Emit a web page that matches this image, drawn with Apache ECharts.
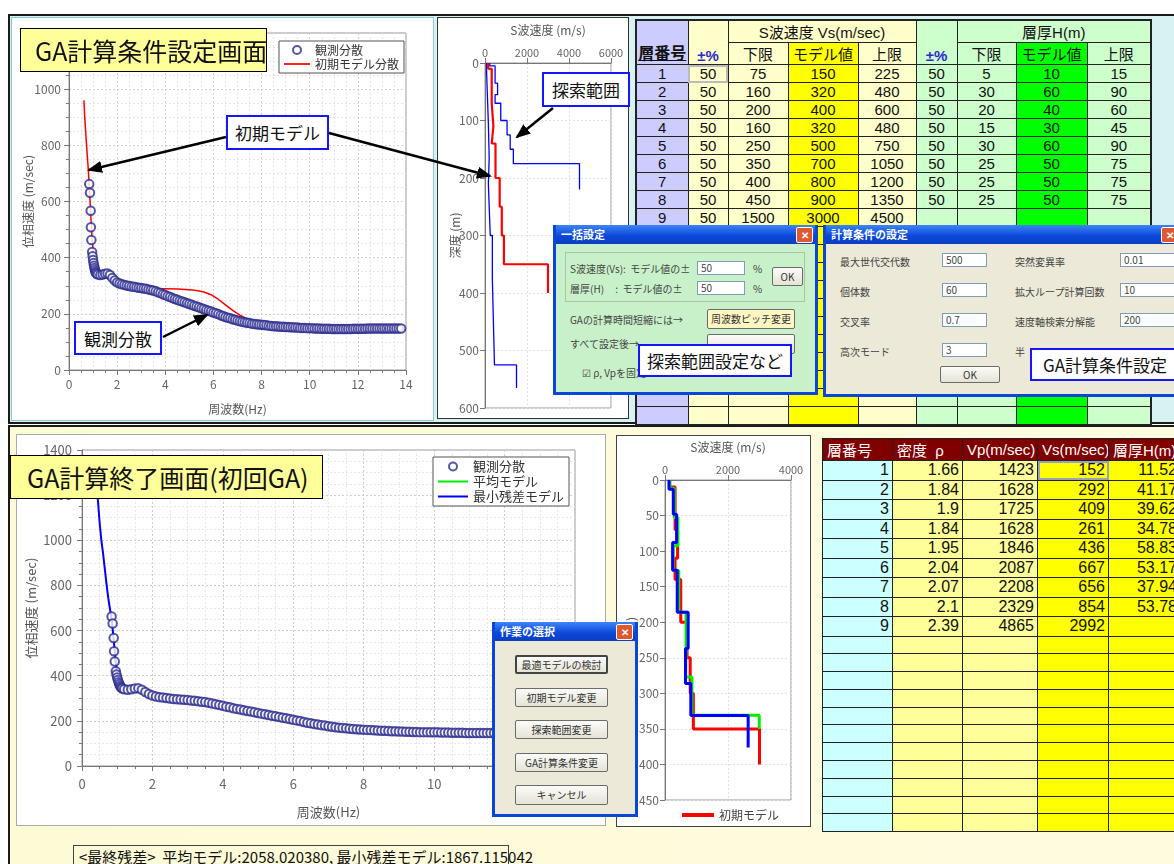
<!DOCTYPE html>
<html><head><meta charset="utf-8">
<script src="https://cdn.jsdelivr.net/npm/echarts@6/dist/echarts.min.js"></script>
<style>
body{margin:0;width:1174px;height:864px;position:relative;overflow:hidden;background:#fff;font-family:"Noto Sans CJK JP","Noto Sans",sans-serif;}
.abs{position:absolute;box-sizing:border-box;}
.ttl{position:absolute;background:#ffff99;border:1.5px solid #000;font-size:25px;display:flex;align-items:center;padding-left:14px;box-sizing:border-box;z-index:10;color:#111;white-space:nowrap;}
.ann{position:absolute;background:#fff;border:2px solid #1515ff;font-size:17px;display:flex;align-items:center;justify-content:center;box-sizing:border-box;z-index:10;color:#111;white-space:nowrap;}
.dlg{position:absolute;box-sizing:border-box;border:3px solid #0a46d8;border-top:none;z-index:6;overflow:hidden;}
.tb{height:19px;background:linear-gradient(#3d84f7,#0a46d8 60%,#0b3fc0);color:#fff;font-size:11px;font-weight:bold;line-height:19px;padding-left:5px;position:relative;}
.xb{position:absolute;right:2px;top:2px;width:15px;height:14px;background:#e0582f;border:1px solid #fff;border-radius:2px;color:#fff;font-size:10px;line-height:14px;text-align:center;}
.lbl{position:absolute;font-size:10px;color:#444;white-space:nowrap;}
.inp{position:absolute;background:#fff;border:1px solid #7f9db9;font-size:10px;height:14px;line-height:12px;padding-left:3px;box-sizing:border-box;color:#444;}
.btn{position:absolute;border:1px solid #6b6b6b;border-radius:2px;background:linear-gradient(#fbfbf8,#e6e3d6);font-size:10px;text-align:center;box-sizing:border-box;color:#333;white-space:nowrap;}
table{border-collapse:collapse;table-layout:fixed;font-family:"Liberation Sans","Noto Sans CJK JP",sans-serif;}
td{border:1px solid #222;padding:0;overflow:hidden;white-space:nowrap;}
#t1 td{text-align:center;font-size:15px;color:#111;}
#t2 td{text-align:right;font-size:16px;color:#111;padding-right:3px;}
#t2 tr.h td{background:#800000;color:#fff;text-align:left;font-size:15px;padding-left:4px;}
</style></head><body>

<!-- panels -->
<div class="abs" style="left:8px;top:14px;width:1170px;height:410px;border:2px solid #1a1a1a;background:#d8f2f4;"></div>
<div class="abs" style="left:8px;top:425px;width:1170px;height:445px;border-top:2px solid #1a1a1a;border-left:2px solid #1a1a1a;background:linear-gradient(90deg,#fdfbd6,#fffbe0);"></div>

<!-- chart containers -->
<div id="c1" class="abs" style="left:12px;top:18px;width:421px;height:402px;background:#fff;outline:1px solid #8cc;"></div>
<div id="c2" class="abs" style="left:438px;top:18px;width:190px;height:400px;background:#fff;outline:1px solid #333;"></div>
<div id="c3" class="abs" style="left:17px;top:435px;width:588px;height:390px;background:#fff;outline:1px solid #aaa;"></div>
<div id="c4" class="abs" style="left:617px;top:436px;width:193px;height:390px;background:#fff;outline:1px solid #444;"></div>

<!-- tables -->
<div id="tw1" class="abs" style="left:635px;top:19px;z-index:2;"></div>
<div id="tw2" class="abs" style="left:822px;top:438px;z-index:2;"></div>

<!-- dialog 1 -->
<div class="dlg" style="left:553px;top:225px;width:265px;height:170px;background:#c9f1c9;">
 <div class="tb">一括設定<div class="xb">✕</div></div>
 <div class="abs" style="left:9px;top:27px;width:240px;height:50px;border:1px solid #a9c4a9;"></div>
 <div class="lbl" style="left:14px;top:36px;">S波速度(Vs):&nbsp; モデル値の±</div>
 <div class="inp" style="left:141px;top:36px;width:48px;">50</div>
 <div class="lbl" style="left:197px;top:36px;">%</div>
 <div class="lbl" style="left:14px;top:56px;">層厚(H)&nbsp;&nbsp;&nbsp;&nbsp;&nbsp;:&nbsp; モデル値の±</div>
 <div class="inp" style="left:141px;top:56px;width:48px;">50</div>
 <div class="lbl" style="left:197px;top:56px;">%</div>
 <div class="btn" style="left:216px;top:42px;width:31px;height:19px;line-height:17px;">OK</div>
 <div class="lbl" style="left:14px;top:87px;">GAの計算時間短縮には→</div>
 <div class="btn" style="left:151px;top:84px;width:88px;height:20px;line-height:18px;background:#fff6c4;">周波数ピッチ変更</div>
 <div class="lbl" style="left:14px;top:111px;">すべて設定後→</div>
 <div class="btn" style="left:151px;top:109px;width:88px;height:20px;line-height:18px;"></div>
 <div class="lbl" style="left:26px;top:140px;">☑ ρ, Vpを固定</div>
</div>

<!-- dialog 2 -->
<div class="dlg" style="left:823px;top:225px;width:360px;height:172px;background:#ece9d8;">
 <div class="tb">計算条件の設定<div class="xb">✕</div></div>
 <div class="lbl" style="left:14px;top:29px;">最大世代交代数</div>
 <div class="inp" style="left:116px;top:28px;width:45px;">500</div>
 <div class="lbl" style="left:189px;top:29px;">突然変異率</div>
 <div class="inp" style="left:294px;top:28px;width:55px;">0.01</div>
 <div class="lbl" style="left:14px;top:59px;">個体数</div>
 <div class="inp" style="left:116px;top:58px;width:45px;">60</div>
 <div class="lbl" style="left:189px;top:59px;">拡大ループ計算回数</div>
 <div class="inp" style="left:294px;top:58px;width:55px;">10</div>
 <div class="lbl" style="left:14px;top:89px;">交叉率</div>
 <div class="inp" style="left:116px;top:88px;width:45px;">0.7</div>
 <div class="lbl" style="left:189px;top:89px;">速度軸検索分解能</div>
 <div class="inp" style="left:294px;top:88px;width:55px;">200</div>
 <div class="lbl" style="left:14px;top:119px;">高次モード</div>
 <div class="inp" style="left:116px;top:118px;width:45px;">3</div>
 <div class="lbl" style="left:189px;top:119px;">半</div>
 <div class="btn" style="left:114px;top:141px;width:60px;height:17px;line-height:15px;">OK</div>
</div>

<!-- dialog 3 -->
<div class="dlg" style="left:492px;top:622px;width:146px;height:195px;background:#ece9d8;">
 <div class="tb">作業の選択<div class="xb">✕</div></div>
 <div class="btn" style="left:20px;top:33px;width:93px;height:19px;line-height:16px;border:2px solid #444;">最適モデルの検討</div>
 <div class="btn" style="left:20px;top:66px;width:93px;height:19px;line-height:17px;">初期モデル変更</div>
 <div class="btn" style="left:20px;top:98px;width:93px;height:19px;line-height:17px;">探索範囲変更</div>
 <div class="btn" style="left:20px;top:131px;width:93px;height:19px;line-height:17px;">GA計算条件変更</div>
 <div class="btn" style="left:20px;top:163px;width:93px;height:20px;line-height:18px;">キャンセル</div>
</div>

<!-- annotation boxes -->
<div class="ttl" style="left:20px;top:28px;width:247px;height:44px;">GA計算条件設定画面</div>
<div class="ttl" style="left:10px;top:455px;width:313px;height:44px;padding-left:16px;">GA計算終了画面(初回GA)</div>
<div class="ann" style="left:226px;top:115px;width:103px;height:35px;">初期モデル</div>
<div class="ann" style="left:74px;top:321px;width:88px;height:34px;">観測分散</div>
<div class="ann" style="left:542px;top:72px;width:88px;height:35px;">探索範囲</div>
<div class="ann" style="left:638px;top:344px;width:154px;height:33px;">探索範囲設定など</div>
<div class="ann" style="left:1030px;top:348px;width:150px;height:33px;">GA計算条件設定</div>
<div class="abs" style="left:73px;top:845px;width:436px;height:24px;border:1px solid #444;font-size:15px;padding-left:5px;line-height:22px;color:#111;white-space:nowrap;z-index:3;">&lt;最終残差&gt;&nbsp; 平均モデル:2058.020380, 最小残差モデル:1867.115042</div>

<svg class="abs" style="left:0;top:0;z-index:20;pointer-events:none" width="1174" height="864">
 <defs><marker id="ah" markerWidth="15" markerHeight="12" refX="13" refY="6" orient="auto" markerUnits="userSpaceOnUse"><path d="M0,0 L15,6 L0,12 z" fill="#000"/></marker></defs>
 <line x1="226" y1="137" x2="89" y2="170" stroke="#000" stroke-width="2.5" marker-end="url(#ah)"/>
 <line x1="329" y1="133" x2="490" y2="176" stroke="#000" stroke-width="2.5" marker-end="url(#ah)"/>
 <line x1="163" y1="337" x2="207" y2="315" stroke="#000" stroke-width="2.5" marker-end="url(#ah)"/>
 <line x1="553" y1="108" x2="517" y2="137" stroke="#000" stroke-width="2.5" marker-end="url(#ah)"/>
</svg>

<script>
// ---------- data ----------
const obsFreq = [0.84,0.87,0.90,0.91,0.93,0.96,0.98,1.00,1.02,1.04,1.06,1.08,1.10,1.12,1.15,
1.2,1.3,1.4,1.5,1.6,1.7,1.8,1.9,2.0,2.1,2.2,2.3,2.4,2.5,2.6,2.7,2.8,2.9,3.0,3.1,3.2,3.3,3.4,3.5,3.6,3.7,3.8,3.9,
4.0,4.1,4.2,4.3,4.4,4.5,4.6,4.7,4.8,4.9,5.0,5.1,5.2,5.3,5.4,5.5,5.6,5.7,5.8,5.9,6.0,6.1,6.2,6.3,6.4,6.5,6.6,6.7,6.8,6.9,
7.0,7.1,7.2,7.3,7.4,7.5,7.6,7.7,7.8,7.9,8.0,8.1,8.2,8.3,8.4,8.5,8.6,8.7,8.8,8.9,9.0,9.1,9.2,9.3,9.4,9.5,9.6,9.7,9.8,9.9,
10.0,10.1,10.2,10.3,10.4,10.5,10.6,10.7,10.8,10.9,11.0,11.1,11.2,11.3,11.4,11.5,11.6,11.7,11.8,11.9,
12.0,12.1,12.2,12.3,12.4,12.5,12.6,12.7,12.8,12.9,13.0,13.1,13.2,13.3,13.4,13.5,13.6,13.7,13.8];
const obsVel = [662,631,567,508,463,420,405,392,381,371,363,356,350,346,343,
340,338,340,343,344,338,328,319,312,308,305,303,301,299,297,296,295,293,292,290,289,287,285,283,280,277,274,270,
267,263,260,256,253,250,247,244,241,238,235,232,229,226,223,220,217,214,211,208,205,202,199,195,192,189,186,184,181,179,
176,174,172,170,168,167,165,164,163,162,161,160,159,158,157,156,156,155,154,154,153,153,152,152,151,151,150,150,150,149,
149,149,148,148,148,147,147,147,147,146,146,146,146,146,146,146,146,146,147,147,
147,147,147,147,148,148,148,148,148,148,148,148,148,148,148,148,148,148,148];

const initFreq = [0.62,0.65,0.7,0.75,0.8,0.85,0.9,0.95,1.0,1.05,1.1,1.15,1.2,1.3,1.4,1.5,1.6,1.8,2.0,2.2,2.5,3.0,3.5,3.8,4.0,4.5,5.0,5.3,5.6,5.9,6.2,6.5,6.8,7.1,7.4,7.7,8.0,8.5,9.0,9.5,10.0,11.0,12.0,13.0,13.7,14.0];
const initVel  = [960,905,840,775,715,640,560,480,425,390,370,357,350,342,338,336,333,325,316,309,302,295,290,289,289,288,286,283,278,268,252,232,212,195,182,172,166,160,155,152,150,148,147,147,146,143];

const minResFreq = [0.42,0.45,0.5,0.55,0.6,0.65,0.7,0.75,0.8,0.85,0.9,0.95,1.0,1.05,1.1,1.2,1.3,1.5,1.6,1.8,2.0,2.5,3.0,3.5,4.0,4.5,5.0,5.5,6.0,6.5,7.0,7.5,8.0,8.5,9.0,10.0,11.0,12.0,13.0,13.8];
const minResVel  = [1300,1180,1080,1000,940,870,800,740,690,640,560,470,410,375,355,342,338,341,342,326,312,299,291,283,268,251,236,220,205,189,177,167,161,156,153,149,147,147,147,147];

// search-range table (top)
const layerNo  = [1,2,3,4,5,6,7,8,9];
const vsPct    = [50,50,50,50,50,50,50,50,50];
const vsLower  = [75,160,200,160,250,350,400,450,1500];
const vsModel  = [150,320,400,320,500,700,800,900,3000];
const vsUpper  = [225,480,600,480,750,1050,1200,1350,4500];
const hPct     = [50,50,50,50,50,50,50,50];
const hLower   = [5,30,20,15,30,25,25,25];
const hModel   = [10,60,40,30,60,50,50,50];
const hUpper   = [15,90,60,45,90,75,75,75];
const depthEndModel = 400, depthEndLowerVs = 565, depthEndUpperVs = 220;

// result table (bottom)
const rhoMean = ['1.66','1.84','1.9','1.84','1.95','2.04','2.07','2.1','2.39'];
const vpMean  = [1423,1628,1725,1628,1846,2087,2208,2329,4865];
const vsMean  = [152,292,409,261,436,667,656,854,2992];
const hMean   = ['11.52','41.17','39.62','34.78','58.83','53.17','37.94','53.78'];
const depthEndMean = 350;

// minimum-residual model
const vsMinRes = [126,263,368,242,389,735,651,819,2640];
const hMinRes  = [13,35,40,39,59,51,49,45];
const depthEndMinRes = 376;

// axis ticks
const freqTicks = {min:0,max:14,interval:2};
const velTicksTop = {min:0,max:1200,interval:200};
const velTicksBot = {min:0,max:1400,interval:200};

// ---------- helpers ----------
const FONT = '"Noto Sans CJK JP","Noto Sans",sans-serif';
const LINE_ICON = 'path://M0,0 L30,0 L30,2 L0,2 Z';
function steps(vs,h,endDepth){
  const pts=[];let d=0;
  for(let i=0;i<vs.length;i++){
    const b = i<h.length ? d+Number(h[i]) : endDepth;
    pts.push([vs[i],d],[vs[i],b]); d=b;
  }
  return pts;
}
function pairs(a,b){return a.map((v,i)=>[v,b[i]]);}
function grid(l,t,r,b){return {left:l,top:t,right:r,bottom:b,show:true,borderColor:'#999',borderWidth:1,containLabel:false,outerBoundsMode:'none'};}
function ax(extra){
  const o = Object.assign({
    type:'value',
    nameMoveOverlap:false,
    axisLine:{show:true,onZero:false,lineStyle:{color:'#777'}},
    axisTick:{show:true,lineStyle:{color:'#777'}},
    nameTextStyle:{color:'#555',fontSize:12,fontFamily:FONT},
    splitLine:{show:true,lineStyle:{color:'#cfcfcf',type:[2,2]}}
  },extra);
  o.axisLabel = Object.assign({color:'#666',fontSize:12,fontFamily:FONT,formatter:v=>String(v)}, extra.axisLabel||{});
  return o;
}
const obsSeries = {name:'観測分散',type:'scatter',data:pairs(obsFreq,obsVel),symbol:'emptyCircle',symbolSize:8.5,
  itemStyle:{color:'#2a2a8e',borderColor:'#2a2a8e',borderWidth:2.2},z:3};

// ---------- chart 1 ----------
echarts.init(document.getElementById('c1')).setOption({
  animation:false,textStyle:{fontFamily:FONT},
  grid:grid(57,15,27,50),
  legend:{orient:'vertical',left:267,top:23,padding:[3,5],itemGap:2,itemWidth:26,itemHeight:8,
    backgroundColor:'#fff',borderColor:'#555',borderWidth:1,textStyle:{fontSize:12,color:'#333'},
    data:[{name:'観測分散',icon:'emptyCircle'},{name:'初期モデル分散',icon:LINE_ICON}]},
  xAxis:ax(Object.assign({name:'周波数(Hz)',nameLocation:'middle',nameGap:33,
    minorTick:{show:true,splitNumber:4},minorSplitLine:{show:true,lineStyle:{color:'#e6e6e6',type:[2,2]}}},freqTicks)),
  yAxis:ax(Object.assign({name:'位相速度 (m/sec)',nameLocation:'middle',nameGap:35,
    minorTick:{show:true,splitNumber:4},minorSplitLine:{show:true,lineStyle:{color:'#e6e6e6',type:[2,2]}}},velTicksTop)),
  series:[
    {name:'初期モデル分散',type:'line',data:pairs(initFreq,initVel),symbol:'none',lineStyle:{color:'#ff0000',width:1.5},itemStyle:{color:'#ff0000'},z:2},
    obsSeries
  ]
});

// ---------- chart 2 ----------
echarts.init(document.getElementById('c2')).setOption({
  animation:false,textStyle:{fontFamily:FONT},
  grid:grid(47,45,17,10),
  xAxis:ax({position:'top',min:0,max:6000,interval:2000,name:'S波速度 (m/s)',nameLocation:'middle',nameGap:27,
    axisLabel:{fontSize:11,margin:5},splitLine:{show:true,lineStyle:{color:'#e2e2e2',type:[2,2]}}}),
  yAxis:ax({inverse:true,min:0,max:600,interval:100,name:'深度 (m)',nameLocation:'middle',nameGap:24,nameRotate:90,
    axisLabel:{fontSize:12,margin:6},splitLine:{show:true,lineStyle:{color:'#e2e2e2',type:[2,2]}}}),
  series:[
    {name:'下限',type:'line',data:steps(vsLower,hUpper,depthEndLowerVs),symbol:'none',lineStyle:{color:'#0000ff',width:1.3}},
    {name:'上限',type:'line',data:steps(vsUpper,hLower,depthEndUpperVs),symbol:'none',lineStyle:{color:'#0000ff',width:1.3}},
    {name:'初期モデル',type:'line',data:steps(vsModel,hModel,depthEndModel),symbol:'none',lineStyle:{color:'#ff0000',width:2.2},z:3}
  ]
});

// ---------- chart 3 ----------
echarts.init(document.getElementById('c3')).setOption({
  animation:false,textStyle:{fontFamily:FONT},
  grid:grid(65,15,30,59),
  legend:{orient:'vertical',left:416,top:22,padding:[3,5],itemGap:2,itemWidth:30,itemHeight:8,
    backgroundColor:'#fff',borderColor:'#555',borderWidth:1,textStyle:{fontSize:13,color:'#333'},
    data:[{name:'観測分散',icon:'emptyCircle'},{name:'平均モデル',icon:LINE_ICON},{name:'最小残差モデル',icon:LINE_ICON}]},
  xAxis:ax(Object.assign({name:'周波数(Hz)',nameLocation:'middle',nameGap:40,nameTextStyle:{color:'#555',fontSize:13},
    axisLabel:{fontSize:13,margin:12},
    minorTick:{show:true,splitNumber:4},minorSplitLine:{show:true,lineStyle:{color:'#e6e6e6',type:[2,2]}}},freqTicks)),
  yAxis:ax(Object.assign({name:'位相速度 (m/sec)',nameLocation:'middle',nameGap:44,nameTextStyle:{color:'#555',fontSize:13},
    axisLabel:{fontSize:13,margin:10},
    minorTick:{show:true,splitNumber:4},minorSplitLine:{show:true,lineStyle:{color:'#e6e6e6',type:[2,2]}}},velTicksBot)),
  series:[
    {name:'平均モデル',type:'line',data:[],symbol:'none',lineStyle:{color:'#00ee00',width:2},itemStyle:{color:'#00ee00'}},
    {name:'最小残差モデル',type:'line',data:pairs(minResFreq,minResVel),symbol:'none',lineStyle:{color:'#0000ff',width:2},itemStyle:{color:'#0000ff'},z:2},
    obsSeries
  ]
});

// ---------- chart 4 ----------
echarts.init(document.getElementById('c4')).setOption({
  animation:false,textStyle:{fontFamily:FONT},
  grid:grid(48,44,19,26),
  legend:{left:60,top:368,itemWidth:32,itemHeight:4,textStyle:{fontSize:12,color:'#444'},data:[{name:'初期モデル',icon:'path://M0,0 L32,0 L32,4 L0,4 Z'}]},
  xAxis:ax({position:'top',min:0,max:4000,interval:2000,name:'S波速度 (m/s)',nameLocation:'middle',nameGap:27,
    axisLabel:{fontSize:11,margin:5},splitLine:{show:true,lineStyle:{color:'#e2e2e2',type:[2,2]}}}),
  yAxis:ax({inverse:true,min:0,max:450,interval:50,name:'深度 (m)',nameLocation:'middle',nameGap:28,nameRotate:90,
    axisLabel:{fontSize:12,margin:6},splitLine:{show:true,lineStyle:{color:'#e2e2e2',type:[2,2]}}}),
  series:[
    {name:'初期モデル',type:'line',data:steps(vsModel,hModel,depthEndModel),symbol:'none',lineStyle:{color:'#ff0000',width:3},itemStyle:{color:'#ff0000'},z:2},
    {name:'平均モデル',type:'line',data:steps(vsMean,hMean,depthEndMean),symbol:'none',lineStyle:{color:'#00ee00',width:3},itemStyle:{color:'#00ee00'},z:3},
    {name:'最小残差モデル',type:'line',data:steps(vsMinRes,hMinRes,depthEndMinRes),symbol:'none',lineStyle:{color:'#0000ff',width:3},itemStyle:{color:'#0000ff'},z:4}
  ]
});

// ---------- table 1 ----------
(function(){
  const W=[52,40,60,70,58,41,59,71,64];
  const C=['#ccccff','#ffffcc','#ffffcc','#ffff00','#ffffcc','#ccffcc','#ccffcc','#00ff00','#ccffcc'];
  let s='<table id="t1" style="width:'+W.reduce((a,b)=>a+b,0)+'px;border:2px solid #222;"><colgroup>'+W.map(w=>'<col style="width:'+w+'px">').join('')+'</colgroup>';
  s+='<tr style="height:19px"><td rowspan="2" style="background:'+C[0]+';vertical-align:bottom;font-size:16px;font-weight:bold;text-decoration:underline;">層番号</td>'+
     '<td rowspan="2" style="background:'+C[1]+';vertical-align:bottom;color:#2a2acc;font-weight:bold;">±%</td>'+
     '<td colspan="3" style="background:'+C[1]+';">S波速度 Vs(m/sec)</td>'+
     '<td rowspan="2" style="background:'+C[5]+';vertical-align:bottom;color:#2a2acc;font-weight:bold;">±%</td>'+
     '<td colspan="3" style="background:'+C[5]+';">層厚H(m)</td></tr>';
  s+='<tr style="height:19px"><td style="background:'+C[2]+'">下限</td><td style="background:'+C[3]+'">モデル値</td><td style="background:'+C[4]+'">上限</td>'+
     '<td style="background:'+C[6]+'">下限</td><td style="background:'+C[7]+'">モデル値</td><td style="background:'+C[8]+'">上限</td></tr>';
  for(let r=0;r<20;r++){
    const v = r<layerNo.length ? [layerNo[r],vsPct[r],vsLower[r],vsModel[r],vsUpper[r],
      r<hPct.length?hPct[r]:'',r<hLower.length?hLower[r]:'',r<hModel.length?hModel[r]:'',r<hUpper.length?hUpper[r]:''] : ['','','','','','','','',''];
    s+='<tr style="height:18px">'+v.map((x,i)=>'<td style="background:'+C[i]+(r===0&&i===1?';outline:2px solid #bbb;outline-offset:-2px':'')+'">'+x+'</td>').join('')+'</tr>';
  }
  s+='</table>';
  document.getElementById('tw1').innerHTML=s;
})();

// ---------- table 2 ----------
(function(){
  const W=[70,70,75,71,72];
  const C=['#ccffff','#ffff99','#ffff99','#ffff00','#ffff00'];
  let s='<table id="t2" style="width:'+W.reduce((a,b)=>a+b,0)+'px;border:1px solid #555;"><colgroup>'+W.map(w=>'<col style="width:'+w+'px">').join('')+'</colgroup>';
  s+='<tr class="h" style="height:19px"><td>層番号</td><td>密度&nbsp; ρ</td><td>Vp(m/sec)</td><td>Vs(m/sec)</td><td>層厚H(m)</td></tr>';
  for(let r=0;r<20;r++){
    const has = r<vsMean.length;
    const v = has ? [r+1,rhoMean[r],vpMean[r],vsMean[r],r<hMean.length?hMean[r]:''] : ['','','','',''];
    s+='<tr style="height:'+(has?19.5:17.8)+'px">'+v.map((x,i)=>'<td style="background:'+C[i]+(r===0&&i===3?';outline:2px solid #9aa0c0;outline-offset:-2px':'')+'">'+x+'</td>').join('')+'</tr>';
  }
  s+='</table>';
  document.getElementById('tw2').innerHTML=s;
})();
</script>
</body></html>
